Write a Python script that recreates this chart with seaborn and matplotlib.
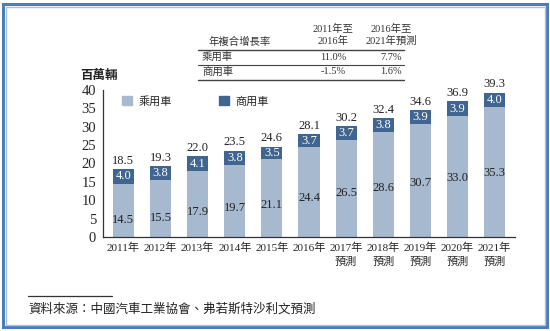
import matplotlib
matplotlib.use("Agg")
import matplotlib.pyplot as plt
import seaborn as sns
import pandas as pd
import numpy as np
from matplotlib.patches import Rectangle
from matplotlib.lines import Line2D

years = ["2011年", "2012年", "2013年", "2014年", "2015年", "2016年",
         "2017年\n預測", "2018年\n預測", "2019年\n預測", "2020年\n預測", "2021年\n預測"]
passenger = [14.5, 15.5, 17.9, 19.7, 21.1, 24.4, 26.5, 28.6, 30.7, 33.0, 35.3]
commercial = [4.0, 3.8, 4.1, 3.8, 3.5, 3.7, 3.7, 3.8, 3.9, 3.9, 4.0]
totals = [18.5, 19.3, 22.0, 23.5, 24.6, 28.1, 30.2, 32.4, 34.6, 36.9, 39.3]
yticks = [0, 5, 10, 15, 20, 25, 30, 35, 40]
series_names = ["乘用車", "商用車"]
table_header = ["年複合增長率", "2011年至\n2016年", "2016年至\n2021年預測"]
table_rows = [["乘用車", "11.0%", "7.7%"], ["商用車", "-1.5%", "1.6%"]]
unit_label = "百萬輛"
source_text = "資料來源：中國汽車工業協會、弗若斯特沙利文預測"

LIGHT = "#a6b9cf"
DARK = "#3f6590"
FONT = ["Liberation Serif", "Noto Sans CJK TC"]

sns.set_theme(style="white")
plt.rcParams["font.family"] = FONT

df = pd.DataFrame({"year": years, "passenger": passenger,
                   "commercial": commercial, "total": totals})

fig = plt.figure(figsize=(5.5, 3.31), dpi=100)
ax = fig.add_axes([103/550, 1-237/331, 412/550, 147/331])

sns.barplot(data=df, x="year", y="total", color=DARK, width=0.57,
            ax=ax, saturation=1, edgecolor="none")
sns.barplot(data=df, x="year", y="passenger", color=LIGHT, width=0.57,
            ax=ax, saturation=1, edgecolor="none")

ax.set_xlim(-0.55, 10.55)
ax.set_ylim(0, 40)
ax.set_yticks(yticks)
ax.set_yticklabels([str(t) for t in yticks], fontsize=10.5)
ax.set_xlabel("")
ax.set_ylabel("")
ax.tick_params(axis="x", which="major", length=0, labelsize=8, pad=4)
ax.set_xticks(np.arange(0.5, 10.5, 1), minor=True)
ax.tick_params(axis="x", which="minor", direction="in", length=3, width=0.8, color="#333333")
ax.tick_params(axis="y", which="major", direction="out", length=3, width=0.8, color="#333333", pad=2)
for lab in ax.get_xticklabels():
    lab.set_linespacing(1.5)
for s in ["top", "right"]:
    ax.spines[s].set_visible(False)
for s in ["left", "bottom"]:
    ax.spines[s].set_color("#333333")
    ax.spines[s].set_linewidth(0.9)

for i, (p, c, t) in enumerate(zip(passenger, commercial, totals)):
    ax.text(i, 0.615*p - 4.3, f"{p:.1f}", ha="center", va="center", fontsize=9, color="#222222")
    ax.text(i, p + c/2, f"{c:.1f}", ha="center", va="center", fontsize=9, color="white")
    ax.text(i, t + 0.6, f"{t:.1f}", ha="center", va="bottom", fontsize=9, color="#222222")

# legend
handles = [Rectangle((0, 0), 1, 1, color=LIGHT), Rectangle((0, 0), 1, 1, color=DARK)]
fig.legend(handles, series_names, loc="center left", bbox_to_anchor=(118/550, 1-101/331),
           ncol=2, frameon=False, fontsize=8, handlelength=0.9, handleheight=0.9,
           columnspacing=4.2, handletextpad=0.6, borderaxespad=0)

fig.text(80/550, 1-76/331, unit_label, fontsize=9, fontweight="bold", va="center", ha="left",
         color="#222222")

# table
tx0, tx1 = 198/550, 404/550
fs = 7.5
fig.text(240/550, 1-42/331, table_header[0], fontsize=fs, ha="center", va="center", color="#333333")
fig.text(333/550, 1-35/331, table_header[1], fontsize=fs, ha="center", va="center", linespacing=1.2,
         color="#333333")
fig.text(398/550 - 0.012, 1-35/331, table_header[2], fontsize=fs, ha="center", va="center",
         linespacing=1.2, color="#333333")
row_y = [57, 72]
for ry, row in zip(row_y, table_rows):
    fig.text(202/550, 1-ry/331, row[0], fontsize=fs, ha="left", va="center", color="#333333")
    fig.text(333/550, 1-ry/331, row[1], fontsize=fs, ha="center", va="center", color="#333333")
    fig.text(398/550 - 0.012, 1-ry/331, row[2], fontsize=fs, ha="center", va="center", color="#333333")
for ly, lw in [(50, 1.0), (65, 0.8), (80, 1.0)]:
    fig.add_artist(Line2D([tx0, tx1], [1-ly/331, 1-ly/331], color="#444444", lw=lw))

# footnote
fig.add_artist(Line2D([28/550, 112/550], [1-296/331, 1-296/331], color="#333333", lw=0.9))
fig.text(28/550, 1-310/331, source_text, fontsize=9, style="italic", ha="left", va="center",
         color="#222222")

# frame
fig.add_artist(Rectangle((3/550, 4/331), 544/550, 323/331, transform=fig.transFigure,
                         fill=False, edgecolor="#4a7ebb", lw=2.2))
fig.add_artist(Rectangle((5.5/550, 6.5/331), 539/550, 318/331, transform=fig.transFigure,
                         fill=False, edgecolor="#a9c2e2", lw=1.0))

fig.savefig("out.png", dpi=100)
